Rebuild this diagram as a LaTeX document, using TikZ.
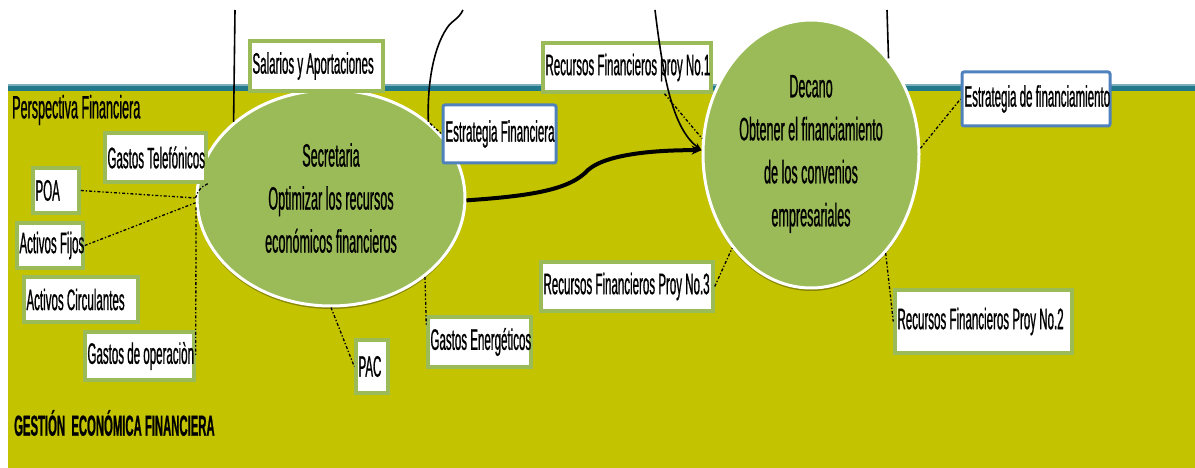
\documentclass[tikz,border=0pt]{standalone}
\usepackage{fontspec}
\setmainfont{Liberation Sans}[FakeStretch=0.39, FakeBold=0.7]
\usetikzlibrary{shapes.geometric,arrows.meta,calc,shadows}

\definecolor{bgolive}{HTML}{C3C300}
\definecolor{bandteal}{HTML}{22798C}
\definecolor{nodegreen}{HTML}{9BBB59}
\definecolor{boxgreen}{HTML}{9BBB59}
\definecolor{boxblue}{HTML}{4F81BD}

% label text set flush left in a box of fixed width
\newcommand\lbltext[2]{\makebox[#1][l]{#2}}

\tikzset{
  lbl/.style={draw=boxgreen, line width=3.5pt, fill=white, inner xsep=2.5pt, inner ysep=0pt,
              font=\fontsize{29.6}{32}\selectfont},
  lblblue/.style={lbl, draw=boxblue, line width=3pt, rounded corners=2pt},
  ell/.style={ellipse, draw=white, line width=3pt, fill=nodegreen, inner sep=0pt, align=center,
              font=\fontsize{32.3}{43}\selectfont,
              drop shadow={shadow xshift=0pt, shadow yshift=-3pt, opacity=.3, fill=black}},
  conn/.style={line width=1.3pt, dash pattern=on 3pt off 2pt on 1.3pt off 2pt},
  wire/.style={line width=1.6pt},
}

\begin{document}
\begin{tikzpicture}[x=1pt,y=-1pt]
  \useasboundingbox (0,0) rectangle (1195,468);
  % page, olive field and the teal band on its upper edge
  \fill[white] (0,0) rectangle (1195,468);
  \fill[bgolive] (8,90) rectangle (1195,468);
  \fill[bandteal] (8,85) rectangle (1195,91);
  \fill[bandteal!60!white] (8,84) rectangle (1195,86);

  % headings
  \node[anchor=west, inner sep=0pt, font=\fontsize{32.3}{34}\selectfont] (persp) at (12,110) {Perspectiva Financiera};
  \node[anchor=west, inner sep=0pt, font=\bfseries\fontsize{29}{32}\selectfont] (gest) at (14,423) {GESTIÓN\ \ ECONÓMICA FINANCIERA};

  % objectives
  \node[ell, minimum width=268pt, minimum height=216pt] (sec) at (331,198)
    {Secretaria\\Optimizar los recursos\\económicos financieros};
  \node[ell, minimum width=216pt, minimum height=268pt] (dec) at (811,154)
    {Decano\\Obtener el financiamiento\\de los convenios\\empresariales};

  % labels
  \node[lbl, minimum height=50pt] (sal) at (316.5,66) {\lbltext{128pt}{Salarios y Aportaciones}};
  \node[lbl, minimum height=49pt] (gtel) at (155.5,157.5) {\lbltext{96pt}{Gastos Telefónicos}};
  \node[lbl, minimum height=45pt] (poa) at (56,190.5) {\lbltext{41pt}{POA}};
  \node[lbl, minimum height=45pt] (afij) at (50,245.5) {\lbltext{61pt}{Activos Fijos}};
  \node[lbl, minimum height=45pt] (acir) at (81,299.5) {\lbltext{109pt}{Activos Circulantes}};
  \node[lbl, minimum height=48pt] (gop) at (139.5,356) {\lbltext{104pt}{Gastos de operaciòn}};
  \node[lbl, minimum height=53pt] (pac) at (372,366.5) {\lbltext{27pt}{PAC}};
  \node[lbl, minimum height=50pt] (gen) at (479.5,342) {\lbltext{98pt}{Gastos Energéticos}};
  \node[lblblue, minimum height=58pt] (efin) at (499.5,134) {\lbltext{108pt}{Estrategia Financiera}};
  \node[lbl, minimum height=49pt] (rp1) at (627,67.5) {\lbltext{163pt}{Recursos Financieros proy No.1}};
  \node[lbl, minimum height=49pt] (rp3) at (627,286.5) {\lbltext{167pt}{Recursos Financieros Proy No.3}};
  \node[lbl, minimum height=63pt] (rp2) at (983.5,321.5) {\lbltext{172pt}{Recursos Financieros Proy No.2}};
  \node[lblblue, minimum height=54pt] (efm) at (1036,99) {\lbltext{143pt}{Estrategia de financiamiento}};

  % dash-dot links from the labels to the objectives
  \draw[conn] (poa.east) -- (sec.west);
  \draw[conn] (afij.east) -- (sec.182);
  \draw[conn] (gtel.south east) to[bend right=25] (sec.west);
  \draw[conn] (sec.184) -- (gop.east);
  \draw[conn] (sec.south) -- (pac.west);
  \draw[conn] (sec.-40) -- (gen.162);
  \draw[conn] (sec.37) -- (efin.west);
  \draw[conn] (rp1.-35) -- (dec.172);
  \draw[conn] (rp3.east) -- (dec.230);
  \draw[conn] (dec.-53) -- (rp2.west);
  \draw[conn] (dec.3) -- (efm.west);

  % solid links entering from above
  \coordinate (ta) at (235,10);
  \coordinate (tb) at (463,10);
  \coordinate (tc) at (655,10);
  \coordinate (td) at (887,10);
  \draw[wire] (ta) -- (sec.142);
  \draw[wire] (tb) .. controls (458,20) and (452,20) .. (447,28)
              .. controls (432,50) and (427,90) .. (sec.38);
  \draw[wire, -{Stealth[length=8pt,width=6pt]}] (tc) .. controls (663,75) and (672,128) .. (dec.178);
  \draw[wire] (td) -- (dec.51);

  % main flow between the two objectives
  \draw[line width=4pt, -{Stealth[length=10pt,width=9pt]}] (sec.-1)
        .. controls (530,196) and (570,190) .. (588,170)
        .. controls (605,155) and (650,150) .. (dec.178);
\end{tikzpicture}
\end{document}
